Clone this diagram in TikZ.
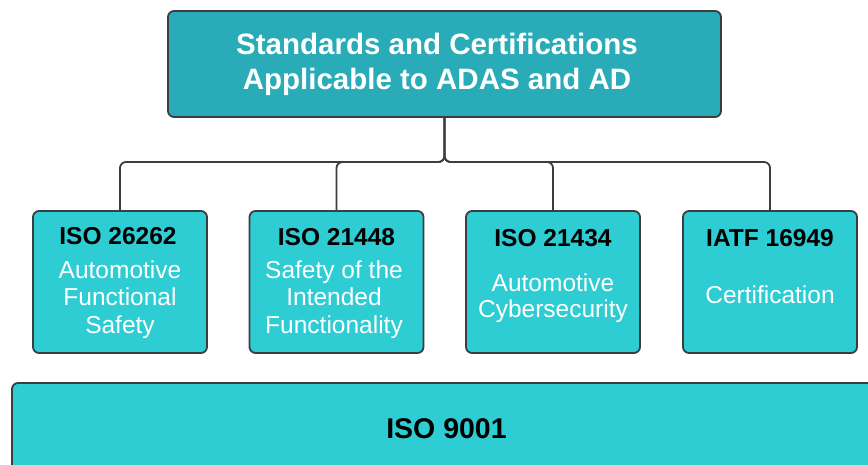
\documentclass[tikz,border=0pt]{standalone}
\usepackage{fontspec}
\setmainfont{Liberation Sans}
\definecolor{topfill}{HTML}{29ACB8}
\definecolor{boxfill}{HTML}{2ECCD3}
\definecolor{edge}{HTML}{3A3D42}
\tikzset{
  panel/.style={draw=edge, line width=1.8pt, rounded corners=6pt, fill=boxfill, inner sep=0pt},
  headbox/.style={panel, fill=topfill},
  conn/.style={draw=edge, line width=1.8pt, rounded corners=6pt},
  boxtitle/.style={font=\bfseries\fontsize{24.5}{27}\selectfont, text=black, inner sep=0pt, anchor=base},
  boxsub/.style={font=\fontsize{24.5}{27.5}\selectfont, text=white, inner sep=0pt, align=center},
}
\begin{document}
\begin{tikzpicture}[x=1pt,y=-1pt]
\useasboundingbox (0,0) rectangle (868,465);
\clip (0,0) rectangle (868,465);
\fill[white] (0,0) rectangle (868,465);

% top box
\node[headbox, minimum width=553pt, minimum height=106pt] (top) at (444.5,64) {};
\node[font=\bfseries\fontsize{29.5}{35}\selectfont, text=white, align=center, inner sep=0pt] (toptext) at (437,64) {Standards and Certifications\\Applicable to ADAS and AD};

% child boxes
\node[panel, minimum width=174pt, minimum height=142pt] (b1) at (120,282) {};
\node[panel, minimum width=174pt, minimum height=142pt] (b2) at (336.5,282) {};
\node[panel, minimum width=174pt, minimum height=142pt] (b3) at (553,282) {};
\node[panel, minimum width=174pt, minimum height=142pt] (b4) at (770,282) {};

\node[boxtitle] (t1) at (118,245) {ISO 26262};
\node[boxtitle] (t2) at (336.5,246) {ISO 21448};
\node[boxtitle] (t3) at (553,247) {ISO 21434};
\node[boxtitle] (t4) at (770,247) {IATF 16949};

\node[boxsub] (s1) at (120,299.6) {Automotive\\Functional\\Safety};
\node[boxsub] (s2) at (334,299.6) {Safety of the\\Intended\\Functionality};
\node[boxsub, font=\fontsize{24.5}{26}\selectfont] (s3) at (553,297.8) {Automotive\\Cybersecurity};
\node[boxsub, anchor=base] (s4) at (770,304) {Certification};

% bottom box
\node[panel, minimum width=869pt, minimum height=90pt] (iso) at (446.5,428) {};
\node[font=\bfseries\fontsize{28.5}{32}\selectfont, text=black, inner sep=0pt, anchor=base] (isotext) at (446.5,438) {ISO 9001};

% connectors
\coordinate (j) at (444.5,162);
\draw[conn] (top.south) -- (j) -| (b1.north);
\draw[conn] (top.south) -- (j) -| (b2.north);
\draw[conn] (top.south) -- (j) -| (b3.north);
\draw[conn] (top.south) -- (j) -| (b4.north);
\end{tikzpicture}
\end{document}
